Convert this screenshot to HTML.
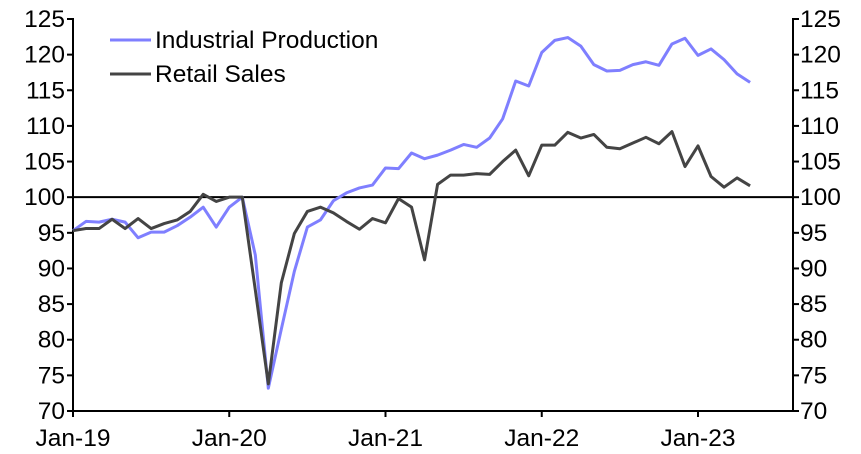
<!DOCTYPE html>
<html><head><meta charset="utf-8"><style>
html,body{margin:0;padding:0;background:#fff;}
svg{display:block;font-family:"Liberation Sans",Arial,sans-serif;}
</style></head><body>
<svg id="c" width="861" height="454"></svg>
<script>
const months = ["Jan-19","Jan-20","Jan-21","Jan-22","Jan-23"];
const yTicks = [70,75,80,85,90,95,100,105,110,115,120,125];
const industrialProduction = [95.3,96.6,96.5,96.9,96.5,94.3,95.1,95.1,96.0,97.2,98.6,95.8,98.6,100,91.9,73.2,81.5,89.6,95.8,96.8,99.5,100.6,101.3,101.7,104.1,104.0,106.2,105.4,105.9,106.6,107.4,107.0,108.3,111.0,116.3,115.6,120.3,122.0,122.4,121.2,118.6,117.7,117.8,118.6,119.0,118.5,121.5,122.3,119.9,120.8,119.3,117.3,116.1];
const retailSales = [95.3,95.6,95.6,96.9,95.6,97.0,95.6,96.3,96.8,98.0,100.4,99.4,100.0,100.0,87.0,73.8,88.0,94.9,98.0,98.6,97.8,96.6,95.5,97.0,96.4,99.8,98.6,91.2,101.8,103.1,103.1,103.3,103.2,105.0,106.6,103.0,107.3,107.3,109.1,108.3,108.8,107.0,106.8,107.6,108.4,107.5,109.2,104.3,107.2,102.9,101.4,102.7,101.6];
const NS="http://www.w3.org/2000/svg";
const svg=document.getElementById('c');
const L=73,R=793,T=19,B=411;
const x=i=>L+i*(156.25/12);
const y=v=>B-(v-70)*(B-T)/55;
function el(t,a,p){const e=document.createElementNS(NS,t);for(const k in a)e.setAttribute(k,a[k]);(p||svg).appendChild(e);return e;}
function txt(s,a){const e=el('text',a);e.textContent=s;return e;}
yTicks.forEach(v=>{
  const t1=el('line',{x1:L-6,x2:L,y1:y(v),y2:y(v),stroke:'#000','stroke-width':2});
  
  const t2=el('line',{x1:R,x2:R+6,y1:y(v),y2:y(v),stroke:'#000','stroke-width':2});
  
  const a=txt(v,{x:L-8,y:y(v)+8,'text-anchor':'end','font-size':24.5});
  
  const b=txt(v,{x:R+7,y:y(v)+8,'font-size':24.5});
  
});
months.forEach((m,k)=>{
  const xi=x(k*12);
  const t=el('line',{x1:xi,x2:xi,y1:B,y2:B+6,stroke:'#000','stroke-width':2});
  
  const l=txt(m,{x:xi,y:446,'text-anchor':'middle','font-size':24.5});
  
});
const ax=el('path',{d:`M${L},${T-1}V${B}H${R}V${T-1}`,fill:'none',stroke:'#000','stroke-width':2});

const ref=el('line',{x1:L,x2:R,y1:y(100),y2:y(100),stroke:'#000','stroke-width':2});

function series(d,c,name){
  const p=el('polyline',{points:d.map((v,i)=>x(i)+','+y(v)).join(' '),fill:'none',stroke:c,'stroke-width':3,'stroke-linejoin':'round'});
  
}
series(industrialProduction,'#7f7fff','industrial-production-line');
series(retailSales,'#444444','retail-sales-line');
[[ '#7f7fff','Industrial Production',40],['#444444','Retail Sales',74]].forEach(([c,s,yy])=>{
  const l=el('line',{x1:110,x2:151,y1:yy,y2:yy,stroke:c,'stroke-width':3});
  
  const t=txt(s,{x:155,y:yy+8,'font-size':24.5});
  
});
</script>
</body></html>
